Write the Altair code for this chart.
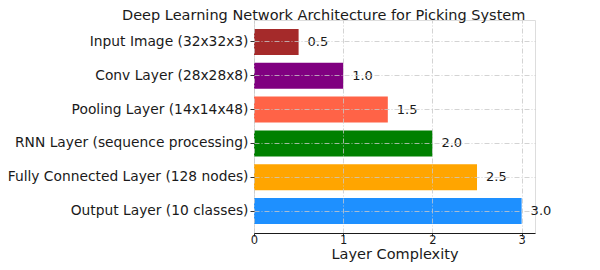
import altair as alt
import pandas as pd

layers = [
    "Input Image (32x32x3)",
    "Conv Layer (28x28x8)",
    "Pooling Layer (14x14x48)",
    "RNN Layer (sequence processing)",
    "Fully Connected Layer (128 nodes)",
    "Output Layer (10 classes)",
]
complexity = [0.5, 1.0, 1.5, 2.0, 2.5, 3.0]
colors = ["#A52A2A", "#800080", "#FF6347", "#008000", "#FFA500", "#1E90FF"]
labels = ["0.5", "1.0", "1.5", "2.0", "2.5", "3.0"]

df = pd.DataFrame({"layer": layers, "value": complexity, "color": colors, "label": labels})

FONT = "DejaVu Sans"
GRID = dict(grid=True, gridColor="#c8c8c8", gridDash=[5, 2, 1, 2], gridWidth=0.8)

y = alt.Y("layer:N", sort=layers, title=None,
          scale=alt.Scale(paddingInner=0.2, paddingOuter=0.25),
          axis=alt.Axis(bandPosition=0.5, labelFontSize=13.8, labelColor="#1a1a1a",
                        labelFont=FONT, labelPadding=2, labelLimit=0, tickSize=4,
                        tickColor="#333", domain=False, zindex=1, **GRID))
x = alt.X("value:Q", title="Layer Complexity",
          scale=alt.Scale(domain=[0, 3.15], nice=False, zero=True),
          axis=alt.Axis(values=[0, 1, 2, 3], format="d", labelFontSize=11.5,
                        labelPadding=-1.5, labelFlush=False, labelColor="#1a1a1a",
                        labelFont=FONT, titleFont=FONT, titleFontSize=14.5,
                        titleFontWeight="normal", titleColor="#1a1a1a", titleY=25.5,
                        titleBaseline="alphabetic", tickSize=3, tickColor="#333",
                        domainColor="#1a1a1a", domainWidth=1, zindex=1, **GRID))

bars = alt.Chart(df).mark_bar(size=26).encode(
    y=y, x=x,
    color=alt.Color("color:N", scale=None, legend=None),
)
text = alt.Chart(df).mark_text(align="left", baseline="middle", dx=9,
                               fontSize=13, font=FONT, color="#1a1a1a").encode(
    y=alt.Y("layer:N", sort=layers),
    x=alt.X("value:Q"),
    text="label:N",
)

chart = (bars + text).properties(
    width=281, height=213,
    title=alt.TitleParams("Deep Learning Network Architecture for Picking System",
                          anchor="start", frame="group", dx=-132, dy=3.5, fontSize=14.5,
                          font=FONT, fontWeight="normal", color="#1a1a1a", offset=0),
    autosize=alt.AutoSizeParams(type="none"),
    padding={"left": 246, "top": 12, "right": 57, "bottom": 29},
).configure_view(stroke=None).configure(background="white")

chart.save("out.html", embed_options={"renderer": "svg", "actions": False})
